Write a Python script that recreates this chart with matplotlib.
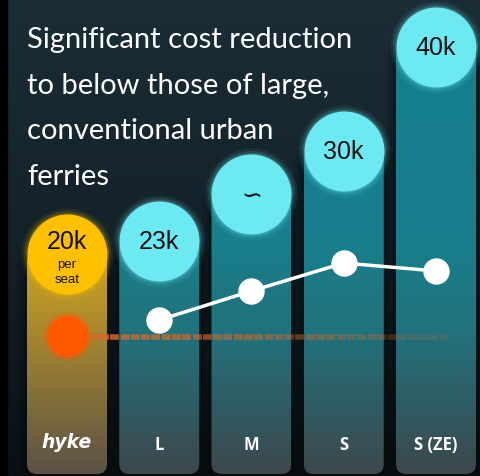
import numpy as np
import matplotlib
matplotlib.use("Agg")
import matplotlib.pyplot as plt
from matplotlib.patches import FancyBboxPatch, Rectangle
from matplotlib.colors import LinearSegmentedColormap

# Data
categories = ["hyke", "L", "M", "S", "S (ZE)"]
cost_labels = ["20k", "23k", "~", "30k", "40k"]
bar_tops = [222, 235, 282, 325, 429]          # height of each column (circle centre)
line_vals = [156, 185, 213, 205]              # white line for L, M, S, S (ZE)
hyke_val = 140                                 # orange dot / dashed reference
title_lines = ["Significant cost reduction", "to below those of large,",
               "conventional urban", "ferries"]

W, H = 481, 477
fig = plt.figure(figsize=(W / 100, H / 100), dpi=100)
ax = fig.add_axes([0, 0, 1, 1])
x0 = -67 / 92.25
x1 = (W - 67) / 92.25
ax.set_xlim(x0, x1)
ax.set_ylim(0, H)
ax.axis("off")
px = 92.25  # pixels per category unit

# background gradient
bg = LinearSegmentedColormap.from_list("bg", ["#0a1013", "#142229", "#1b2d37"])
grad = np.linspace(0, 1, 256).reshape(-1, 1)
ax.imshow(grad, cmap=bg, extent=[x0, x1, 0, H], origin="lower", aspect="auto", zorder=0)
ax.add_patch(Rectangle((0, 0), 7 / W, 1, transform=ax.transAxes, color="#000000", zorder=0.5))

teal = LinearSegmentedColormap.from_list(
    "teal", [(0, "#3d474c"), (0.3, "#22727c"), (0.5, "#187f8d"), (1, "#147e8d")])
gold = LinearSegmentedColormap.from_list(
    "gold", [(0, "#5a5147"), (0.2, "#8d7538"), (0.38, "#bb9628"), (0.5, "#caa020"), (1, "#caa020")])

bw = 80 / px
r = 40
for i, top in enumerate(bar_tops):
    cmap = gold if i == 0 else teal
    # shadow
    for k, a in [(10, 0.12), (6, 0.18), (3, 0.25)]:
        sh = FancyBboxPatch((i - bw / 2 - k / px, 2 - k), bw + 2 * k / px, top + k,
                            boxstyle="round,pad=0,rounding_size=%f" % (12 / px),
                            mutation_aspect=px, fc="#05090b", ec="none", alpha=a, zorder=1)
        ax.add_patch(sh)
    patch = FancyBboxPatch((i - bw / 2, 2), bw, top,
                           boxstyle="round,pad=0,rounding_size=%f" % (10 / px),
                           mutation_aspect=px, fc="none", ec="none", zorder=2)
    ax.add_patch(patch)
    im = ax.imshow(grad, cmap=cmap, extent=[i - bw / 2, i + bw / 2, 0, H],
                   origin="lower", aspect="auto", zorder=2)
    im.set_clip_path(patch)

# circles with glow
d_pt = 2 * r * 0.72
for i, top in enumerate(bar_tops):
    col = "#ffc000" if i == 0 else "#6de9f1"
    for g, a in [(6, 0.08), (3.5, 0.12), (1.5, 0.2)]:
        ax.scatter(i, top, s=(d_pt + g * 0.72 * 2) ** 2, color=col, alpha=a,
                   linewidths=0, zorder=3)
    ax.scatter(i, top, s=d_pt ** 2, color=col, linewidths=0, zorder=4)

txt_font = ["Liberation Sans", "DejaVu Sans"]
for i, (lab, top) in enumerate(zip(cost_labels, bar_tops)):
    if i == 0:
        ax.text(i, top + 13, lab, ha="center", va="center", fontsize=18,
                family=txt_font, color="#111111", zorder=5)
        ax.text(i, top - 10, "per", ha="center", va="center", fontsize=9.5,
                family=txt_font, color="#111111", zorder=5)
        ax.text(i, top - 25, "seat", ha="center", va="center", fontsize=9.5,
                family=txt_font, color="#111111", zorder=5)
    elif lab == "~":
        ax.text(i, top - 2, "\u223d", ha="center", va="center", fontsize=18,
                family=["DejaVu Sans"], color="#111111", zorder=5)
    else:
        ax.text(i, top, lab, ha="center", va="center", fontsize=18,
                family=txt_font, color="#111111", zorder=5)

# dashed reference line (fading)
xs = np.linspace(-0.2, 4.15, 40)
for j in range(len(xs) - 1):
    a = 0.8 * (1 - j / (len(xs) - 1)) + 0.15
    ax.plot(xs[j:j + 2], [hyke_val - 1, hyke_val - 1], color="#d06a2c", lw=4,
            ls=(0, (1.6, 1.0)), alpha=a, zorder=5, solid_capstyle="butt")

# orange dot
for g, a in [(8, 0.1), (4, 0.2)]:
    ax.plot(0, hyke_val, "o", ms=30 + g, color="#ff5a00", alpha=a, mec="none", zorder=6)
ax.plot(0, hyke_val, "o", ms=30, color="#ff5a00", mec="none", zorder=6)

# white line
xl = np.arange(1, len(categories))
ax.plot(xl, line_vals, "-", color="white", lw=2.5, zorder=7)
ax.plot(xl, line_vals, "o", ms=19, color="white", mec="none", zorder=8)

# category labels
for i, c in enumerate(categories):
    if i == 0:
        ax.text(i, 34, c, ha="center", va="center", fontsize=13.5, fontweight="bold",
                style="italic", family=["DejaVu Sans"], color="white", zorder=9)
    else:
        ax.text(i, 32, c, ha="center", va="center", fontsize=12, fontweight="bold",
                family=["Open Sans", "DejaVu Sans"], color="white", zorder=9)

# title text
for k, line in enumerate(title_lines):
    ax.text(27 / W, 1 - (48 + k * 45.7) / H, line, transform=ax.transAxes,
            ha="left", va="baseline", fontsize=21, family=["Lato", "DejaVu Sans"],
            color="white", zorder=9)

fig.savefig("out.png", dpi=100)
